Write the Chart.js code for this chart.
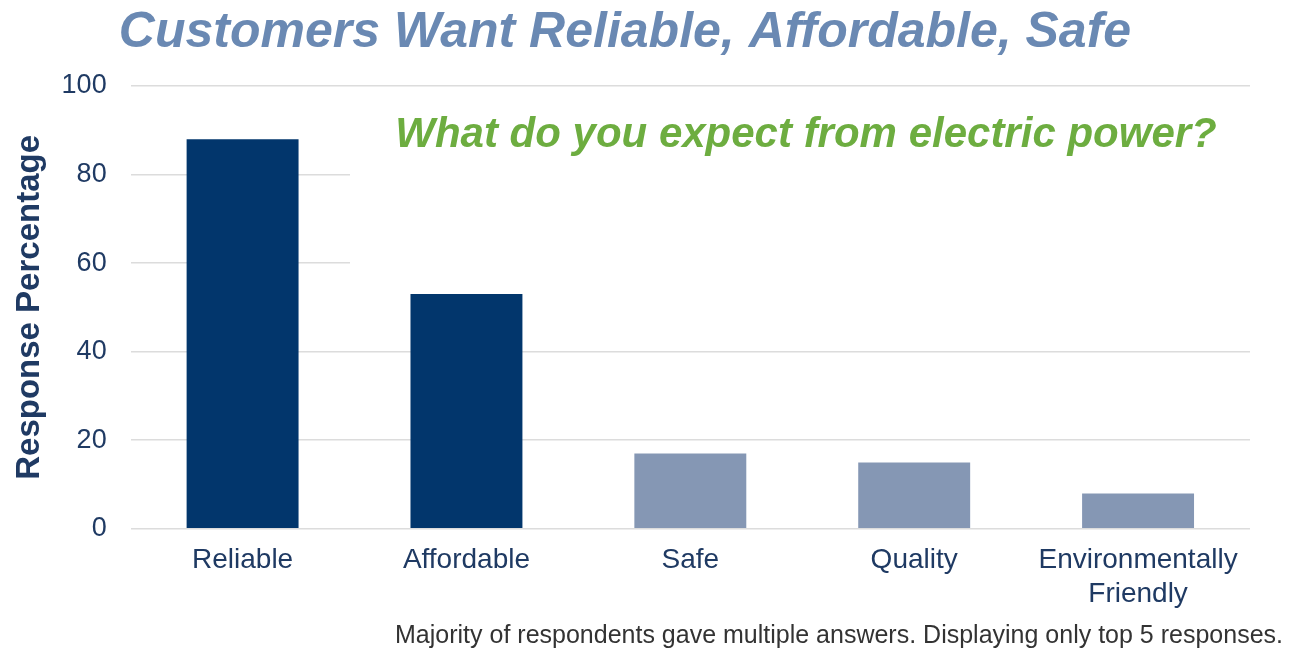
<!DOCTYPE html>
<html>
<head>
  <title>Customers Want Reliable, Affordable, Safe</title>
  <meta name="viewport" content="width=device-width, initial-scale=1">
  <script src="https://cdn.jsdelivr.net/npm/chart.js"></script>
  <style>
    body { margin: 0; background-color: white; font-family: "Liberation Sans", Arial, sans-serif; }
    .chart-container { position: relative; width: 1289px; height: 656px; }
  </style>
</head>
<body>
  <div class="chart-container">
    <canvas id="expectChart"></canvas>
  </div>

  <script>
    // Survey data
    var categories = ['Reliable', 'Affordable', 'Safe', 'Quality', ['Environmentally', 'Friendly']];
    var responsePct = [88, 53, 17, 15, 8];
    var yTicks = [0, 20, 40, 60, 80, 100];

    var chartTitle = 'Customers Want Reliable, Affordable, Safe';
    var question = 'What do you expect from electric power?';
    var footnote = 'Majority of respondents gave multiple answers. Displaying only top 5 responses.';

    // Top two answers in dark navy, the rest in muted blue
    var darkBlue = '#02366c';
    var lightBlue = '#8597b4';
    var barColors = [darkBlue, darkBlue, lightBlue, lightBlue, lightBlue];

    var textNavy = '#1f3a63';
    var fontFamily = '"Liberation Sans", Arial, sans-serif';

    // White panel behind the question, then the question and the footnote
    var notesPlugin = {
      id: 'notes',
      beforeDatasetsDraw: function(chart) {
        var ctx = chart.ctx;
        var area = chart.chartArea;
        var y = chart.scales.y;
        ctx.save();
        ctx.fillStyle = 'white';
        var top = y.getPixelForValue(96);
        var bottom = y.getPixelForValue(50);
        ctx.fillRect(350, top, area.right - 350, bottom - top);
        ctx.restore();
      },
      afterDraw: function(chart) {
        var ctx = chart.ctx;
        ctx.save();
        ctx.textBaseline = 'middle';

        ctx.font = 'bold italic 42px ' + fontFamily;
        ctx.fillStyle = '#6dad40';
        ctx.textAlign = 'center';
        ctx.fillText(question, 806, 135);

        ctx.font = '25px ' + fontFamily;
        ctx.fillStyle = '#333333';
        ctx.textAlign = 'right';
        ctx.fillText(footnote, 1283, 636);
        ctx.restore();
      }
    };

    var expectChart = new Chart(document.getElementById('expectChart'), {
      type: 'bar',
      data: {
        labels: categories,
        datasets: [{
          label: 'Response Percentage',
          data: responsePct,
          backgroundColor: barColors,
          borderWidth: 0,
          barPercentage: 0.5,
          categoryPercentage: 1.0
        }]
      },
      options: {
        responsive: true,
        maintainAspectRatio: false,
        animation: false,
        layout: {
          padding: { left: 0, right: 39, top: 0, bottom: 30 }
        },
        plugins: {
          legend: { display: false },
          tooltip: { enabled: false },
          title: {
            display: true,
            text: chartTitle,
            color: '#6a89b3',
            font: { family: fontFamily, size: 50, weight: 'bold', style: 'italic' },
            padding: { top: 3, bottom: 23 }
          }
        },
        scales: {
          x: {
            grid: { display: false, drawTicks: false },
            border: { display: false },
            ticks: {
              color: textNavy,
              padding: 15,
              maxRotation: 0,
              font: { family: fontFamily, size: 28, lineHeight: 1.2 }
            }
          },
          y: {
            min: 0,
            max: 100,
            afterBuildTicks: function(scale) {
              scale.ticks = yTicks.map(function(v) { return { value: v }; });
            },
            grid: {
              color: '#dcdcdc',
              lineWidth: 1.5,
              drawTicks: false
            },
            border: { display: false },
            ticks: {
              color: textNavy,
              padding: 24,
              font: { family: fontFamily, size: 27 }
            },
            title: {
              display: true,
              text: 'Response Percentage',
              color: textNavy,
              // tick padding is counted twice in the axis width, so pull the title in
              padding: { top: 10, bottom: -12 },
              font: { family: fontFamily, size: 33, weight: 'bold' }
            }
          }
        }
      },
      plugins: [notesPlugin]
    });
  </script>
</body>
</html>
